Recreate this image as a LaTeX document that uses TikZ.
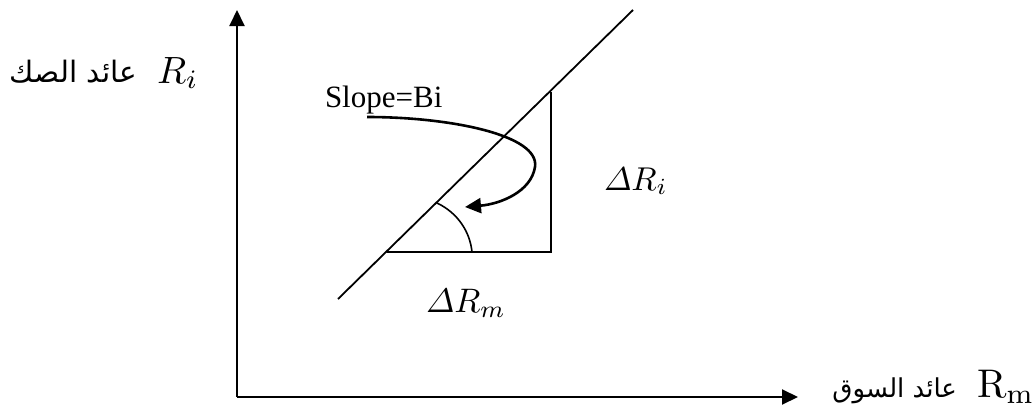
\documentclass[tikz,border=0pt]{standalone}
\usepackage{amsmath}
\usepackage{graphicx}
\usepackage{fontspec}
\newfontfamily\arabicfont[Script=Arabic]{DejaVu Sans}
\newfontfamily\timesfont{Liberation Serif}
\TeXXeTstate=1
\usetikzlibrary{arrows.meta}
\begin{document}
\begin{tikzpicture}[x=1pt,y=-1pt,
  axis/.style={line width=2pt,-{Triangle[length=16pt,width=15pt]}},
  thin line/.style={line width=1.8pt},
  curvearrow/.style={line width=2.6pt,-{Triangle[length=16pt,width=15pt]}},
  lbl/.style={inner sep=0pt,outer sep=0pt}]
\useasboundingbox (0,0) rectangle (1034,407);
% axes
\coordinate (O) at (237,397);
\coordinate (ytip) at (237,10);
\coordinate (xtip) at (798,397);
\draw[axis] (O) -- (ytip);
\draw[axis] (O) -- (xtip);
% regression line
\coordinate (L1) at (338,299);
\coordinate (L2) at (633,10);
\draw[thin line] (L1) -- (L2);
% triangle
\coordinate (A) at (387,252);
\coordinate (B) at (551,252);
\coordinate (C) at (551,92);
\draw[thin line] (A) -- (B) -- (C);
% angle arc
\coordinate (arc1) at (437,203);
\coordinate (arc2) at (472,252);
\draw[line width=1.6pt] (arc1) .. controls (458,213) and (470,232) .. (arc2);
% curved arrow
\coordinate (cs) at (367,117);
\coordinate (cm) at (535,167);
\coordinate (ce) at (465,207);
\draw[curvearrow] (cs) .. controls (450,117) and (540,135) .. (cm)
   .. controls (531,192) and (500,204) .. (ce);
% labels
\node[lbl,anchor=base west] (slope) at (325,107) {\fontsize{31}{36}\selectfont\timesfont Slope=Bi};
\node[lbl,anchor=base west] (dri) at (604,190) {\scalebox{3.3}{$\varDelta R_i$}};
\node[lbl,anchor=base west] (drm) at (426,312) {\scalebox{3.4}{$\varDelta R_m$}};
\node[lbl,anchor=base west] (ri) at (157,83) {\scalebox{3.8}{$R_i$}};
\node[lbl,anchor=base east] (ary) at (137,82) {\fontsize{29.5}{34}\selectfont\arabicfont\beginR عائد الصك\endR};
\node[lbl,anchor=base west] (rm) at (977,397) {\scalebox{4}{$\mathrm{R}_{\mathrm{m}}$}};
\node[lbl,anchor=base east] (arx) at (957,397) {\fontsize{26}{30}\selectfont\arabicfont\beginR عائد السوق\endR};
\end{tikzpicture}
\end{document}
